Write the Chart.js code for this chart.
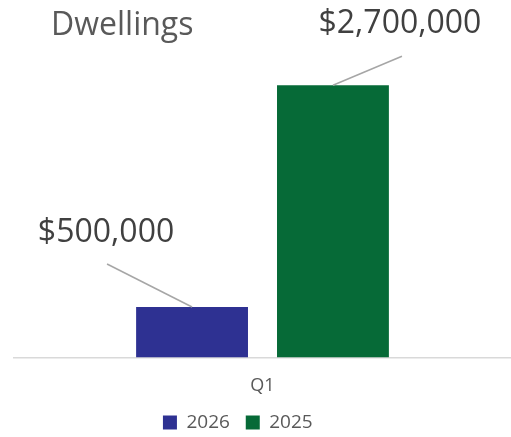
<!DOCTYPE html>
<html>
<head>
<meta charset="utf-8">
<script src="https://cdn.jsdelivr.net/npm/chart.js@4/dist/chart.umd.min.js"></script>
<style>
  html, body { margin: 0; padding: 0; background: #fff; }
  #wrap { width: 511px; height: 437px; }
</style>
</head>
<body>
<div id="wrap"><canvas id="c"></canvas></div>
<script>
const categories = ['Q1'];
const seriesNames = ['2026', '2025'];
const values2026 = [500000];
const values2025 = [2700000];
const seriesColors = ['#2E3192', '#066A37'];
// where each data label sits relative to its bar top (dx, dy)
const labelOffsets = [[-86, -74], [67, -61]];
// trailing spacing in the legend, to push the items left like the original
const legendTail = ['\u00a0\u00a0', '\u00a0'.repeat(10)];

const money = v => '$' + v.toLocaleString('en-US');

const titlePlugin = {
    id: 'sideTitle',
    afterDraw(chart) {
        const ctx = chart.ctx;
        ctx.save();
        ctx.font = '32px "Open Sans"';
        ctx.fillStyle = '#595959';
        ctx.textAlign = 'left';
        ctx.textBaseline = 'middle';
        ctx.fillText('Dwellings', 51, 26);
        ctx.restore();
    }
};

const calloutPlugin = {
    id: 'callouts',
    afterDatasetsDraw(chart) {
        const ctx = chart.ctx;
        ctx.save();
        chart.data.datasets.forEach((ds, i) => {
            const meta = chart.getDatasetMeta(i);
            meta.data.forEach((bar, j) => {
                const [dx, dy] = labelOffsets[i];
                const lx = bar.x + dx, ly = bar.y + dy;
                ctx.strokeStyle = '#A6A6A6';
                ctx.lineWidth = 1.5;
                ctx.beginPath();
                ctx.moveTo(lx + (i === 0 ? 1 : 2), ly + (i === 0 ? 31 : 32));
                ctx.lineTo(bar.x, bar.y);
                ctx.stroke();
                ctx.font = '32px "Open Sans"';
                ctx.fillStyle = '#404040';
                ctx.textAlign = 'center';
                ctx.textBaseline = 'middle';
                ctx.fillText(money(ds.data[j]), lx, ly);
            });
        });
        ctx.restore();
    }
};

new Chart(document.getElementById('c'), {
    type: 'bar',
    data: {
        labels: categories,
        datasets: [
            { label: seriesNames[0], data: values2026, backgroundColor: seriesColors[0] },
            { label: seriesNames[1], data: values2025, backgroundColor: seriesColors[1] }
        ]
    },
    options: {
        responsive: true,
        maintainAspectRatio: false,
        animation: false,
        categoryPercentage: 0.567,
        barPercentage: 0.794,
        layout: { padding: { top: 55, left: 14, right: 0, bottom: -5 } },
        plugins: {
            legend: {
                position: 'bottom',
                labels: {
                    boxWidth: 14, boxHeight: 14, padding: 6,
                    color: '#595959',
                    font: { family: 'Open Sans', size: 19 },
                    generateLabels(chart) {
                        const items = Chart.defaults.plugins.legend.labels.generateLabels(chart);
                        items.forEach((it, i) => { it.text = it.text + legendTail[i]; });
                        return items;
                    }
                }
            },
            tooltip: { enabled: false }
        },
        scales: {
            x: {
                grid: { display: false },
                border: { color: '#D9D9D9', width: 1.5 },
                ticks: { color: '#595959', font: { family: 'Open Sans', size: 18 }, padding: 10 }
            },
            y: {
                display: false,
                min: 0,
                max: 3000000
            }
        }
    },
    plugins: [titlePlugin, calloutPlugin]
});
</script>
</body>
</html>
